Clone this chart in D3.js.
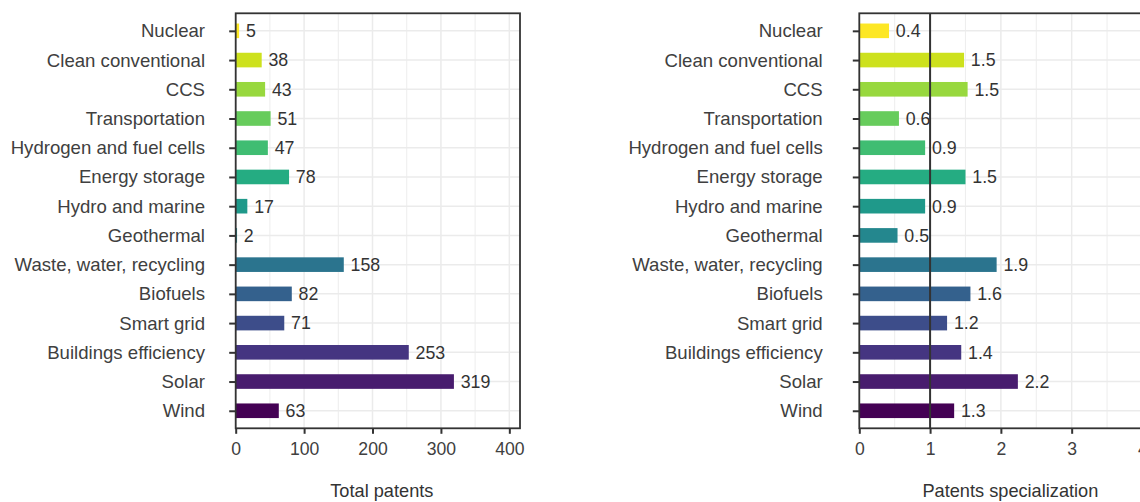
<!DOCTYPE html>
<html>
<head>
<meta charset="utf-8">
<script src="https://cdn.jsdelivr.net/npm/d3@7"></script>
<style>
  html, body { margin: 0; padding: 0; background: #fff; }
  svg { display: block; font-family: "Liberation Sans", Arial, Helvetica, sans-serif; }
</style>
</head>
<body>
<svg id="chart" width="1140" height="502"></svg>
<script>
// ---- data ----
const categories = [
  "Nuclear", "Clean conventional", "CCS", "Transportation", "Hydrogen and fuel cells",
  "Energy storage", "Hydro and marine", "Geothermal", "Waste, water, recycling",
  "Biofuels", "Smart grid", "Buildings efficiency", "Solar", "Wind"
];
const totalPatents = [5, 38, 43, 51, 47, 78, 17, 2, 158, 82, 71, 253, 319, 63];
const specialization = [0.42, 1.48, 1.53, 0.56, 0.93, 1.50, 0.93, 0.54, 1.94, 1.57, 1.24, 1.44, 2.24, 1.34];
const totalTicks = [0, 100, 200, 300, 400];
const specTicks = [0, 1, 2, 3, 4];
const axisTitles = ["Total patents", "Patents specialization"];

// ---- layout ----
const svg = d3.select("#chart");
const panelTop = 13.3, panelBottom = 428.3;
const txt = "#404040", dark = "#333333", grid = "#ebebeb";
const fsCat = 18.6, fsTick = 17.6, fsVal = 17.8, fsTitle = 18.2;

const color = d3.scaleOrdinal()
  .domain(categories)
  .range(categories.map((c, i) => d3.interpolateViridis(1 - i / (categories.length - 1))));

const y = d3.scalePoint().domain(categories).range([panelTop, panelBottom]).padding(0.6);
const bandH = y.step() * 0.5;

function panel(opts) {
  const { left, width, domainMax, values, ticks, fmt, title, labelGap, refLine } = opts;
  const right = left + width;
  const x = d3.scaleLinear().domain([0, domainMax]).range([left, right]);
  const g = svg.append("g");

  // minor grid
  const minor = d3.range(ticks.length - 1).map(i => (ticks[i] + ticks[i + 1]) / 2)
    .concat([ticks[ticks.length - 1] + (ticks[1] - ticks[0]) / 2]).filter(v => v < domainMax);
  g.selectAll(".minor").data(minor).join("line")
    .attr("x1", d => x(d)).attr("x2", d => x(d))
    .attr("y1", panelTop).attr("y2", panelBottom)
    .attr("stroke", grid).attr("stroke-width", 0.9);
  // major grid
  g.selectAll(".majorx").data(ticks).join("line")
    .attr("x1", d => x(d)).attr("x2", d => x(d))
    .attr("y1", panelTop).attr("y2", panelBottom)
    .attr("stroke", grid).attr("stroke-width", 1.5);
  g.selectAll(".majory").data(categories).join("line")
    .attr("x1", left).attr("x2", right)
    .attr("y1", d => y(d)).attr("y2", d => y(d))
    .attr("stroke", grid).attr("stroke-width", 1.5);

  // bars
  g.selectAll(".bar").data(categories).join("rect")
    .attr("x", x(0))
    .attr("y", d => y(d) - bandH / 2)
    .attr("width", (d, i) => x(values[i]) - x(0))
    .attr("height", bandH)
    .attr("fill", d => color(d));

  // value labels
  g.selectAll(".val").data(categories).join("text")
    .attr("x", (d, i) => x(values[i]) + 6.8)
    .attr("y", d => y(d))
    .attr("dy", "0.36em")
    .attr("font-size", fsVal)
    .attr("fill", dark)
    .text((d, i) => fmt(values[i]));

  if (refLine !== undefined) {
    g.append("line")
      .attr("x1", x(refLine)).attr("x2", x(refLine))
      .attr("y1", panelTop).attr("y2", panelBottom)
      .attr("stroke", dark).attr("stroke-width", 2);
  }

  // border
  g.append("rect")
    .attr("x", left).attr("y", panelTop)
    .attr("width", width).attr("height", panelBottom - panelTop)
    .attr("fill", "none").attr("stroke", dark).attr("stroke-width", 1.8);

  // x axis
  const xa = g.append("g").attr("transform", `translate(0,${panelBottom})`)
    .call(d3.axisBottom(x).tickValues(ticks).tickSize(5.5).tickPadding(9).tickFormat(d3.format("d")));
  xa.select(".domain").remove();
  xa.selectAll(".tick line").attr("stroke", dark).attr("stroke-width", 2);
  xa.selectAll(".tick text").attr("fill", txt).attr("font-size", fsTick)
    .attr("font-family", "Liberation Sans, Arial, sans-serif");

  // y axis ticks + labels
  const ya = g.append("g").attr("transform", `translate(${left},0)`)
    .call(d3.axisLeft(y).tickSize(6.5).tickPadding(labelGap));
  ya.select(".domain").remove();
  ya.selectAll(".tick line").attr("stroke", dark).attr("stroke-width", 2);
  ya.selectAll(".tick text").attr("fill", txt).attr("font-size", fsCat)
    .attr("font-family", "Liberation Sans, Arial, sans-serif");

  // title
  g.append("text")
    .attr("x", (left + right) / 2 + 4).attr("y", 497)
    .attr("text-anchor", "middle")
    .attr("font-size", fsTitle)
    .attr("fill", dark)
    .text(title);
}

panel({ left: 235.7, width: 284.3, domainMax: 415.6, values: totalPatents, ticks: totalTicks,
        fmt: d3.format("d"), title: axisTitles[0], labelGap: 24.2 });
panel({ left: 859.3, width: 294.2, domainMax: 4.156, values: specialization, ticks: specTicks,
        fmt: d3.format(".1f"), title: axisTitles[1], labelGap: 30.1, refLine: 1 });
</script>
</body>
</html>
